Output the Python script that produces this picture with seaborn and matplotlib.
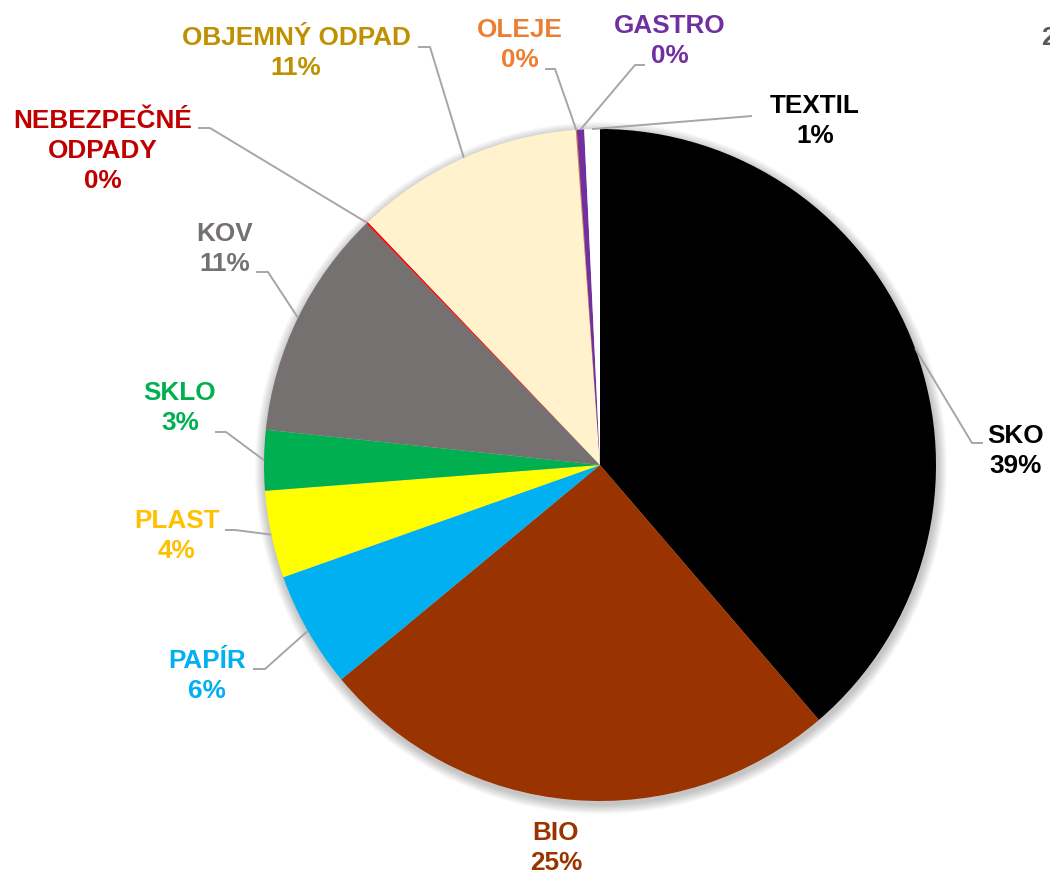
import numpy as np
import matplotlib.pyplot as plt
import seaborn as sns

# shares (clockwise from 12 o'clock)
categories = ['SKO', 'BIO', 'PAPÍR', 'PLAST', 'SKLO', 'KOV', 'NEBEZPEČNÉ\nODPADY',
              'OBJEMNÝ ODPAD', 'OLEJE', 'GASTRO', 'TEXTIL']
shares = [38.75, 25.3, 5.6, 4.2, 2.9, 11.1, 0.1, 11.0, 0.05, 0.35, 0.75]
slice_colors = ['#000000', '#993300', '#00B0F0', '#FFFF00', '#00B050', '#767171',
                '#FF0000', '#FFF2CC', '#ED7D31', '#7030A0', '#FFFFFF']
label_colors = ['#000000', '#993300', '#00B0F0', '#FFC000', '#00B050', '#767171',
                '#C00000', '#BF9000', '#ED7D31', '#7030A0', '#000000']

# label layout in pixels (y measured from top): text centre, leader end, elbow x
label_pos = [(1016, 451), (556, 848), (207, 676), (177, 536), (180, 408), (225, 249),
             (103, 151), (296, 53), (520, 45), (670, 41), (815, 121)]
leader_end = [(983, 443), None, (253, 669), (225, 530), (215, 432), (256, 272),
              (198, 128), (418, 47), (545, 69), (645, 65), (752, 116)]
elbow_x = [972, None, 265, 235, 226, 268, 210, 430, 555, 635, 752]

H = 877
CX, CY, R = 600, 465, 336

sns.set_theme(style='white')
plt.rcParams['font.family'] = ['Liberation Sans', 'DejaVu Sans']

fig = plt.figure(figsize=(10.5, 8.77), dpi=100)
ax = fig.add_axes([0, 0, 1, 1])

# soft glow/shadow around the pie
for k in range(1, 11):
    ax.add_patch(plt.Circle((CX + 1, H - CY - 3), R + k, color='black',
                            alpha=0.022, lw=0, zorder=0))

wedges, _ = ax.pie(shares, colors=slice_colors, startangle=90, counterclock=False,
                   center=(CX, H - CY), radius=R, frame=True,
                   wedgeprops=dict(linewidth=0))
ax.set_xlim(0, 1050)
ax.set_ylim(0, H)
ax.set_aspect('equal')
ax.axis('off')

for w, name, val, col, pos, end, ex in zip(wedges, categories, shares, label_colors,
                                            label_pos, leader_end, elbow_x):
    pct = f'{round(val):.0f}%'
    ax.text(pos[0], H - pos[1], f'{name}\n{pct}', ha='center', va='center',
            color=col, fontsize=18.8, fontweight='bold', linespacing=1.33, zorder=5)
    if end is None:
        continue
    mid = np.deg2rad((w.theta1 + w.theta2) / 2)
    px = w.center[0] + w.r * np.cos(mid)
    py = w.center[1] + w.r * np.sin(mid)
    ax.plot([px, ex, end[0]], [py, H - end[1], H - end[1]], color='#A6A6A6',
            lw=1.4, solid_capstyle='butt', zorder=4)

# cut-off title digit at the top right edge, as in the source image
ax.text(1041, H - 38, '2', ha='left', va='center', color='#595959',
        fontsize=18.8, fontweight='bold')

fig.savefig('out.png', dpi=100)
